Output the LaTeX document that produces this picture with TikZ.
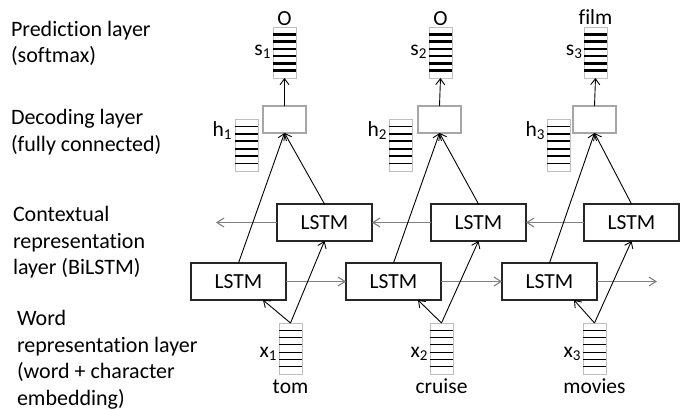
\documentclass[tikz,border=0pt]{standalone}
\usepackage{fontspec}
\setmainfont[Ligatures=NoCommon]{Carlito}
\usetikzlibrary{arrows.meta,calc}
\begin{document}
\begin{tikzpicture}[x=1pt,y=-1pt,
  every node/.style={inner sep=0pt, outer sep=0pt, font=\fontsize{21.5}{26.5}\selectfont},
  lstm/.style={draw=black!85, line width=1.1pt, minimum width=95pt, minimum height=37pt, anchor=north west},
  decbox/.style={draw=black!35, line width=1.2pt, minimum width=43pt, minimum height=27pt, anchor=north west},
  vecbox/.style={draw=black!25, line width=1pt, minimum width=23pt, minimum height=51pt, anchor=north west},
  sline/.style={line width=2.6pt, black},
  hline/.style={line width=1.8pt, black},
  xline/.style={line width=1.2pt, black},
  conn/.style={-{Straight Barb[length=6pt,width=9pt]}, line width=0.9pt, black},
  hconn/.style={-{Straight Barb[length=7pt,width=9pt,line width=1.1pt]}, line width=1.8pt, black!50},
  lbl/.style={anchor=base west, font=\fontsize{22}{26.5}\selectfont},
  vlbl/.style={anchor=base east},
  word/.style={anchor=base},
]
\useasboundingbox (0,0) rectangle (681,410);

% left labels
\node[lbl] (lpred) at (11,36) {\begin{tabular}[t]{@{}l@{}}Prediction layer\\(softmax)\end{tabular}};
\node[lbl] (ldec) at (11,124.5) {\begin{tabular}[t]{@{}l@{}}Decoding layer\\(fully connected)\end{tabular}};
\node[lbl] (lctx) at (13,221.5) {\begin{tabular}[t]{@{}l@{}}Contextual\\representation\\layer (BiLSTM)\end{tabular}};
\node[lbl] (lword) at (17,325.5) {\begin{tabular}[t]{@{}l@{}}Word\\representation layer\\(word + character\\embedding)\end{tabular}};

% output vectors
\node[vecbox] (s1) at (273,27) {};
\node[vecbox] (s2) at (429,27) {};
\node[vecbox] (s3) at (584,27) {};
\foreach \n in {s1,s2,s3} \foreach \i in {1,...,6}
  \draw[sline] ($(\n.north west)+(0,\i*7.286)$) -- ++(23,0);

% hidden vectors
\node[vecbox, minimum height=52pt] (h1) at (235,119) {};
\node[vecbox, minimum height=52pt] (h2) at (389,119) {};
\node[vecbox, minimum height=52pt] (h3) at (547,119) {};
\foreach \n in {h1,h2,h3} \foreach \i in {1,...,6}
  \draw[hline] ($(\n.north west)+(0,\i*7.43)$) -- ++(23,0);

% input vectors
\node[vecbox] (x1) at (279,323) {};
\node[vecbox] (x2) at (430,323) {};
\node[vecbox] (x3) at (583,323) {};
\foreach \n in {x1,x2,x3} \foreach \i in {1,...,6}
  \draw[xline] ($(\n.north west)+(0,\i*7.286)$) -- ++(23,0);

% decoding boxes
\node[decbox] (d1) at (263,106) {};
\node[decbox] (d2) at (418,106) {};
\node[decbox] (d3) at (573,106) {};

% LSTM boxes
\node[lstm] (u1) at (277,204) {LSTM};
\node[lstm] (u2) at (431,204) {LSTM};
\node[lstm] (u3) at (584,204) {LSTM};
\node[lstm] (l1) at (191,263) {LSTM};
\node[lstm] (l2) at (346,263) {LSTM};
\node[lstm] (l3) at (502,263) {LSTM};

% texts
\node[word] (o1) at (284.5,25) {O};
\node[word] (o2) at (440.5,25) {O};
\node[word] (o3) at (595.5,24) {film};
\node[vlbl] (ls1) at (271,55) {s\textsubscript{1}};
\node[vlbl] (ls2) at (427,55) {s\textsubscript{2}};
\node[vlbl] (ls3) at (582.5,55) {s\textsubscript{3}};
\node[vlbl] (lh1) at (232,136) {h\textsubscript{1}};
\node[vlbl] (lh2) at (387,136) {h\textsubscript{2}};
\node[vlbl] (lh3) at (545,136) {h\textsubscript{3}};
\node[vlbl] (lx1) at (277,357) {x\textsubscript{1}};
\node[vlbl] (lx2) at (428,357) {x\textsubscript{2}};
\node[vlbl] (lx3) at (581,357) {x\textsubscript{3}};
\node[word] (w1) at (290.5,393) {tom};
\node[word] (w2) at (441.5,393) {cruise};
\node[word] (w3) at (594.5,393) {movies};

% horizontal connectors
\coordinate (uend) at (216,222.5);
\coordinate (lend) at (657,281.5);
\draw[hconn] (u3.west) -- (u2.east);
\draw[hconn] (u2.west) -- (u1.east);
\draw[hconn] (u1.west) -- (uend);
\draw[hconn] (l1.east) -- (l2.west);
\draw[hconn] (l2.east) -- (l3.west);
\draw[hconn] (l3.east) -- (lend);

% diagonal connectors
\foreach \k in {1,2,3} {
  \draw[conn] (x\k.north) -- ([xshift=-23pt]l\k.south east);
  \draw[conn] (x\k.north) -- (u\k.south);
  \draw[conn] (l\k.north) -- (d\k.south);
  \draw[conn] (u\k.north) -- (d\k.south);
  \draw[conn] (d\k.north) -- (s\k.south);
}
\end{tikzpicture}
\end{document}
